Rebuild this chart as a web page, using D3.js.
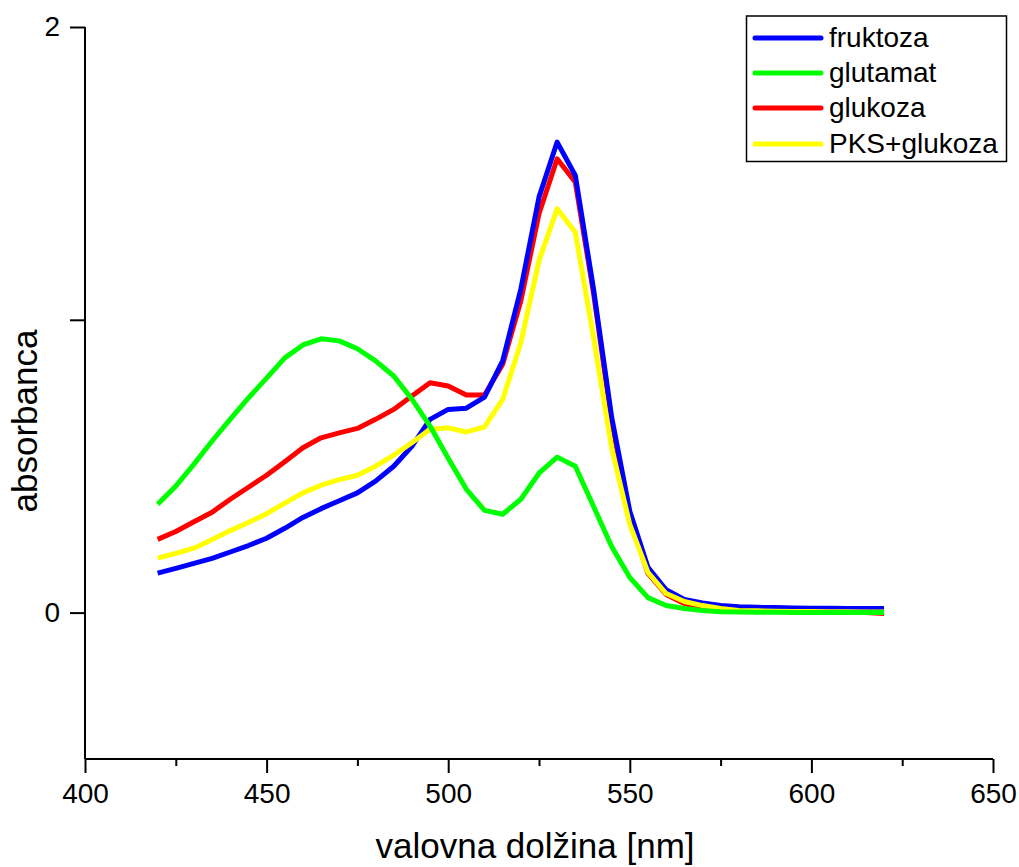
<!DOCTYPE html>
<html>
<head>
<meta charset="utf-8">
<script src="https://cdn.jsdelivr.net/npm/d3@7"></script>
<style>
  html, body { margin: 0; padding: 0; background: #fff; }
  svg { display: block; font-family: "Liberation Sans", Arial, sans-serif; }
</style>
</head>
<body>
<svg id="chart" width="1019" height="867"></svg>
<script>
// Wavelengths (nm), sampled every 5 nm from 420 to 620
const wavelengths = d3.range(420, 621, 5);

const seriesNames = ["fruktoza", "glutamat", "glukoza", "PKS+glukoza"];
const seriesColors = ["#0000ff", "#00ff00", "#ff0000", "#ffff00"];

const fruktoza = [
  0.135, 0.151, 0.168, 0.185, 0.207, 0.229, 0.254, 0.288, 0.325, 0.355,
  0.382, 0.409, 0.449, 0.500, 0.568, 0.660, 0.694, 0.698, 0.736, 0.860,
  1.105, 1.419, 1.607, 1.493, 1.106, 0.668, 0.346, 0.155, 0.078, 0.045,
  0.033, 0.024, 0.020, 0.018, 0.017, 0.016, 0.015, 0.015, 0.014, 0.014, 0.014
];
const glutamat = [
  0.370, 0.432, 0.507, 0.586, 0.661, 0.733, 0.801, 0.870, 0.914, 0.935,
  0.928, 0.901, 0.860, 0.808, 0.729, 0.637, 0.527, 0.421, 0.349, 0.336,
  0.387, 0.476, 0.531, 0.500, 0.363, 0.226, 0.120, 0.051, 0.024, 0.014,
  0.007, 0.003, 0.002, 0.001, 0.001, 0.000, 0.000, 0.000, 0.000, 0.000, 0.000
];
const glukoza = [
  0.250, 0.277, 0.310, 0.343, 0.387, 0.428, 0.469, 0.515, 0.563, 0.597,
  0.614, 0.629, 0.660, 0.694, 0.740, 0.785, 0.774, 0.743, 0.743, 0.848,
  1.065, 1.362, 1.550, 1.470, 1.092, 0.654, 0.325, 0.134, 0.062, 0.031,
  0.017, 0.010, 0.007, 0.006, 0.005, 0.004, 0.003, 0.002, 0.001, 0.000, -0.003
];
const pksGlukoza = [
  0.186, 0.202, 0.220, 0.250, 0.280, 0.308, 0.338, 0.374, 0.409, 0.435,
  0.454, 0.469, 0.500, 0.538, 0.580, 0.626, 0.631, 0.617, 0.634, 0.728,
  0.922, 1.202, 1.379, 1.299, 0.940, 0.562, 0.301, 0.137, 0.065, 0.038,
  0.024, 0.014, 0.007, 0.006, 0.005, 0.004, 0.004, 0.003, 0.003, 0.002, 0.002
];

const xTicksMajor = [400, 450, 500, 550, 600, 650];
const xTicksMinor = [425, 475, 525, 575, 625];
const yTicksMajor = [0, 2];
const yTicksMinor = [1];

const allSeries = [fruktoza, glutamat, glukoza, pksGlukoza];
// drawing order: red, blue, yellow, green on top
const drawOrder = [2, 0, 3, 1];

const svg = d3.select("#chart");
const plotLeft = 85, plotRight = 993, plotTop = 27, plotBottom = 759;
const fontFamily = "'Liberation Sans', Arial, sans-serif";

const x = d3.scaleLinear().domain([400, 650]).range([plotLeft, plotRight]);
const y = d3.scaleLinear().domain([-0.5, 2]).range([plotBottom, plotTop]);

// X axis
const xAxis = svg.append("g").attr("transform", `translate(0,${plotBottom})`);
xAxis.call(d3.axisBottom(x).tickValues(xTicksMajor).tickSize(14).tickPadding(10).tickFormat(d3.format("d")));
xAxis.append("g").call(d3.axisBottom(x).tickValues(xTicksMinor).tickSize(7).tickFormat(""))
  .select(".domain").remove();
xAxis.selectAll("text").attr("font-size", 28).attr("fill", "#000")
  .style("font-family", fontFamily);

// Y axis
const yAxis = svg.append("g").attr("transform", `translate(${plotLeft},0)`);
yAxis.call(d3.axisLeft(y).tickValues(yTicksMajor).tickSize(15).tickPadding(10).tickFormat(d3.format("d")));
yAxis.append("g").call(d3.axisLeft(y).tickValues(yTicksMinor).tickSize(15).tickFormat(""))
  .select(".domain").remove();
yAxis.selectAll("text").attr("font-size", 28).attr("fill", "#000")
  .style("font-family", fontFamily);

svg.selectAll(".domain, .tick line").attr("stroke", "#000").attr("stroke-width", 2);
xAxis.select(".domain").attr("d", `M${plotLeft},0H${plotRight}`);
yAxis.select(".domain").attr("d", `M0,${plotTop}V${plotBottom}`);

// Axis titles
svg.append("text")
  .attr("x", (plotLeft + plotRight) / 2 - 4).attr("y", 858)
  .attr("text-anchor", "middle").attr("font-size", 35)
  .text("valovna dolžina [nm]");
svg.append("text")
  .attr("transform", `translate(37,421) rotate(-90)`)
  .attr("text-anchor", "middle").attr("font-size", 35)
  .text("absorbanca");

// Spectra
const line = d3.line()
  .x((d, i) => x(wavelengths[i]))
  .y(d => y(d));

drawOrder.forEach(k => {
  svg.append("path")
    .datum(allSeries[k])
    .attr("fill", "none")
    .attr("stroke", seriesColors[k])
    .attr("stroke-width", 5)
    .attr("stroke-linejoin", "round")
    .attr("d", line);
});

// Legend
const legend = svg.append("g");
legend.append("rect")
  .attr("x", 746.5).attr("y", 16).attr("width", 260).attr("height", 145.5)
  .attr("fill", "#fff").attr("stroke", "#000").attr("stroke-width", 1.5);
const rowY = [38, 73, 108, 144];
seriesNames.forEach((name, i) => {
  legend.append("line")
    .attr("x1", 755).attr("x2", 821).attr("y1", rowY[i]).attr("y2", rowY[i])
    .attr("stroke", seriesColors[i]).attr("stroke-width", 5)
    .attr("stroke-linecap", "round");
  legend.append("text")
    .attr("x", 829).attr("y", rowY[i] + 9)
    .attr("font-size", 28)
    .text(name);
});
</script>
</body>
</html>
